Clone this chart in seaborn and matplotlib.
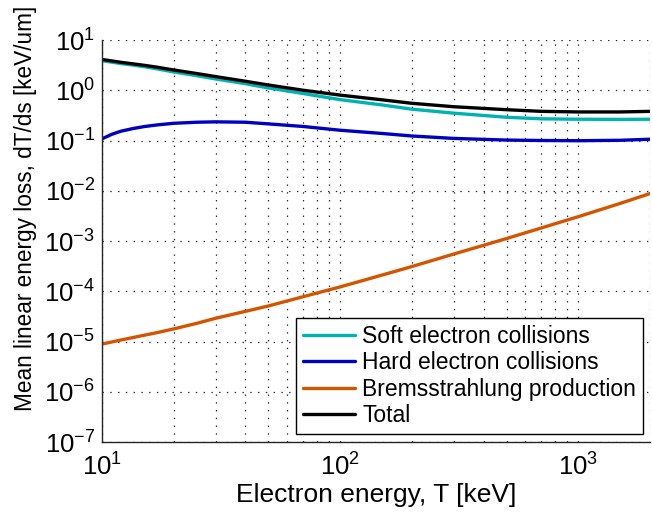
import matplotlib
matplotlib.use("Agg")
import matplotlib.pyplot as plt
import numpy as np
import pandas as pd
import seaborn as sns
from matplotlib.ticker import LogLocator, LogFormatterSciNotation, NullFormatter

# Electron kinetic energy [keV]
energy = [10, 11, 12, 13.5, 15, 17, 20, 25, 30, 40, 50, 70, 100, 150, 200, 300, 500, 700,
          1000, 1500, 2000]

# Stopping power components [keV/um]
soft = [3.88, 3.62, 3.40, 3.17, 2.95, 2.67, 2.31, 1.95, 1.68, 1.35, 1.11, 0.86, 0.65, 0.51,
        0.42, 0.35, 0.29, 0.27, 0.265, 0.263, 0.265]
hard = [0.108, 0.133, 0.153, 0.173, 0.189, 0.204, 0.220, 0.231, 0.235, 0.231, 0.214, 0.19,
        0.16, 0.138, 0.123, 0.11, 0.102, 0.100, 0.099, 0.101, 0.106]
brems = [8.9e-6, 9.8e-6, 1.07e-5, 1.2e-5, 1.33e-5, 1.5e-5, 1.78e-5, 2.3e-5, 2.9e-5, 3.98e-5,
         5.1e-5, 7.8e-5, 1.22e-4, 2.1e-4, 3.1e-4, 5.5e-4, 1.12e-3, 1.82e-3, 3.05e-3, 5.6e-3,
         8.8e-3]
total = [4.10, 3.83, 3.60, 3.35, 3.14, 2.88, 2.53, 2.15, 1.87, 1.51, 1.27, 1.00, 0.80, 0.645,
         0.55, 0.47, 0.41, 0.38, 0.37, 0.37, 0.38]

series_names = ["Soft electron collisions", "Hard electron collisions",
                "Bremsstrahlung production", "Total"]
series_colors = ["#00b3b3", "#0000c0", "#d45500", "#000000"]

df = pd.concat([
    pd.DataFrame({"T": energy, "loss": vals, "component": name})
    for name, vals in zip(series_names, [soft, hard, brems, total])
], ignore_index=True)

sns.set_theme(style="white")
plt.rcParams["font.family"] = ["Liberation Sans", "DejaVu Sans"]
plt.rcParams["mathtext.fontset"] = "custom"
plt.rcParams["mathtext.rm"] = "Liberation Sans"
plt.rcParams["mathtext.it"] = "Liberation Sans:italic"
plt.rcParams["mathtext.bf"] = "Liberation Sans:bold"
plt.rcParams["lines.scale_dashes"] = False
plt.rcParams["text.color"] = "black"
plt.rcParams["axes.labelcolor"] = "black"

fig = plt.figure(figsize=(6.52, 5.18), dpi=100)
ax = fig.add_axes([102 / 652, 76 / 518, 548 / 652, 402 / 518])

sns.lineplot(data=df, x="T", y="loss", hue="component", hue_order=series_names,
             palette=dict(zip(series_names, series_colors)), linewidth=2.4,
             ax=ax, legend=True, sort=False, estimator=None)

ax.set_xscale("log")
ax.set_yscale("log")
ax.set_xlim(10, 2000)
ax.set_ylim(1e-7, 1e1)

ax.xaxis.set_major_locator(LogLocator(base=10))
ax.xaxis.set_minor_locator(LogLocator(base=10, subs=np.arange(2, 10), numticks=20))
ax.yaxis.set_major_locator(LogLocator(base=10, numticks=20))
ax.yaxis.set_minor_locator(LogLocator(base=10, subs=np.arange(2, 10), numticks=40))
ax.xaxis.set_major_formatter(LogFormatterSciNotation())
ax.yaxis.set_major_formatter(LogFormatterSciNotation())
ax.xaxis.set_minor_formatter(NullFormatter())
ax.yaxis.set_minor_formatter(NullFormatter())

# dotted grid: x major + minor, y major only
dots = (0, (1.0, 4.6))
ax.grid(True, which="major", axis="both", linestyle=dots, color="0.15", linewidth=0.9)
ax.grid(True, which="minor", axis="x", linestyle=dots, color="0.15", linewidth=0.9)
ax.set_axisbelow(True)

for side in ("top", "right"):
    ax.spines[side].set_visible(False)
for side in ("left", "bottom"):
    ax.spines[side].set_color("0.15")
    ax.spines[side].set_linewidth(1.0)

ax.tick_params(axis="both", which="both", direction="in", colors="0.15",
               labelcolor="black", labelsize=18.5)
ax.tick_params(axis="both", which="major", length=5, width=0.8)
ax.tick_params(axis="both", which="minor", length=3, width=0.6)
ax.tick_params(axis="x", which="major", pad=8)
ax.tick_params(axis="y", which="major", pad=5)

ax.set_xlabel("Electron energy, T [keV]", fontsize=19, labelpad=2)
ax.set_ylabel("Mean linear energy loss, dT/ds [keV/um]", fontsize=16.3)
ax.yaxis.set_label_coords(-0.118, 0.582)

handles, labels = ax.get_legend_handles_labels()
leg = ax.legend(handles, labels, loc="upper right", bbox_to_anchor=(0.987, 0.308),
                borderaxespad=0, fontsize=16.5, frameon=True, fancybox=False,
                handlelength=2.3, handletextpad=0.3, labelspacing=0.15,
                borderpad=0.3)
leg.get_frame().set_edgecolor("black")
leg.get_frame().set_linewidth(1.0)
leg.get_frame().set_alpha(1)

fig.savefig("out.png", dpi=100)
